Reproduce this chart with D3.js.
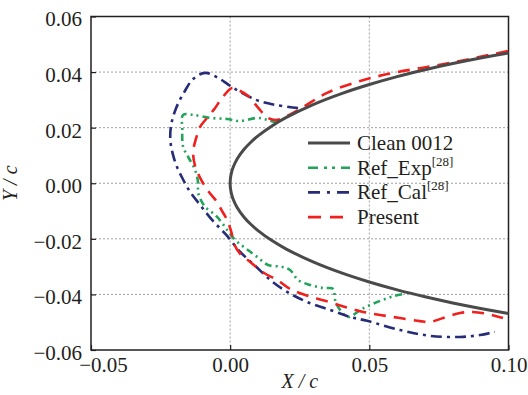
<!DOCTYPE html>
<html>
<head>
<meta charset="utf-8">
<script src="https://cdn.jsdelivr.net/npm/d3@7"></script>
<style>
    body { margin: 0; background: #fff; }
    text { font-family: "Liberation Serif", "Times New Roman", serif; fill: #231f20; }
    .grid line { stroke: #a0a0a0; stroke-width: 1; stroke-dasharray: 2,2; }
</style>
</head>
<body>
<div id="chart"></div>
<script>

// Clean NACA 0012 nose (upper surface, lower is mirrored)
const cleanX = [0, 0.0001, 0.0005, 0.001, 0.0025, 0.005, 0.0075, 0.01, 0.015, 0.02, 0.03, 0.04, 0.05, 0.06, 0.07, 0.08, 0.09, 0.10, 0.11];
const cleanY = [0, 0.00177, 0.00395, 0.00556, 0.00872, 0.01221, 0.01485, 0.01704, 0.02064, 0.02360, 0.02840, 0.03228, 0.03555, 0.03838, 0.04086, 0.04307, 0.04505, 0.04683, 0.04843];

// Ref_Exp [28] ice shape
const expX = [0.0169, 0.0133, 0.0097, 0.0036, -0.0011, -0.0072, -0.0133, -0.0169, -0.0172, -0.0169, -0.0151, -0.0126, -0.0115, -0.0115, -0.0090, -0.0054, -0.0029, -0.0011, 0.0018, 0.0054, 0.0097, 0.0136, 0.0187, 0.0215, 0.0244, 0.0287, 0.0334, 0.0370, 0.0377, 0.0395, 0.0424, 0.0474, 0.0539, 0.0592, 0.0625];
const expY = [0.0217, 0.0228, 0.0235, 0.0224, 0.0231, 0.0235, 0.0246, 0.0246, 0.0192, 0.0131, 0.0095, 0.0048, 0.0001, -0.0035, -0.0085, -0.0114, -0.0143, -0.0168, -0.0204, -0.0233, -0.0265, -0.0294, -0.0301, -0.0312, -0.0348, -0.0366, -0.0377, -0.0380, -0.0420, -0.0456, -0.0481, -0.0452, -0.0423, -0.0405, -0.0398];

// Ref_Cal [28] ice shape
const calX = [0.0244, 0.0162, 0.0093, 0.0007, -0.0043, -0.0090, -0.0133, -0.0165, -0.0194, -0.0212, -0.0215, -0.0208, -0.0194, -0.0172, -0.0144, -0.0108, -0.0065, -0.0014, 0.0036, 0.0090, 0.0144, 0.0205, 0.0276, 0.0359, 0.0431, 0.0492, 0.0610, 0.0718, 0.0826, 0.0898, 0.0951];
const calY = [0.0271, 0.0282, 0.0300, 0.0346, 0.0379, 0.0397, 0.0375, 0.0328, 0.0271, 0.0210, 0.0156, 0.0113, 0.0066, 0.0019, -0.0031, -0.0078, -0.0132, -0.0186, -0.0247, -0.0297, -0.0348, -0.0391, -0.0427, -0.0456, -0.0481, -0.0495, -0.0528, -0.0549, -0.0553, -0.0546, -0.0535];

// Present ice shape
const presX = [0.0998, 0.0933, 0.0826, 0.0707, 0.0585, 0.0467, 0.0348, 0.0262, 0.0205, 0.0169, 0.0136, 0.0101, 0.0065, 0.0036, 0.0007, -0.0029, -0.0054, -0.0083, -0.0108, -0.0122, -0.0133, -0.0126, -0.0104, -0.0079, -0.0050, -0.0029, -0.0011, 0.0004, 0.0014, 0.0036, 0.0072, 0.0122, 0.0169, 0.0215, 0.0269, 0.0341, 0.0413, 0.0478, 0.0539, 0.0610, 0.0682, 0.0718, 0.0765, 0.0826, 0.0872, 0.0922, 0.0980];
const presY = [0.0476, 0.0462, 0.0440, 0.0418, 0.0397, 0.0368, 0.0325, 0.0274, 0.0242, 0.0228, 0.0235, 0.0271, 0.0314, 0.0332, 0.0343, 0.0307, 0.0271, 0.0235, 0.0203, 0.0163, 0.0113, 0.0062, 0.0012, -0.0028, -0.0064, -0.0100, -0.0132, -0.0175, -0.0218, -0.0254, -0.0283, -0.0323, -0.0348, -0.0380, -0.0402, -0.0423, -0.0445, -0.0463, -0.0474, -0.0485, -0.0496, -0.0499, -0.0485, -0.0467, -0.0463, -0.0470, -0.0485];

const xTicks = [-0.05, 0.00, 0.05, 0.10];
const yTicks = [-0.06, -0.04, -0.02, 0.00, 0.02, 0.04, 0.06];

const seriesNames = ["Clean 0012", "Ref_Exp", "Ref_Cal", "Present"];
const seriesSup = ["", "[28]", "[28]", ""];

let margin = { top: 16.5, right: 19.5, bottom: 45, left: 91 };
let width = 528 - margin.left - margin.right;
let height = 395 - margin.top - margin.bottom;

let svg = d3.select("#chart").append("svg")
    .attr("width", 528)
    .attr("height", 395)
    .append("g")
    .attr("transform", "translate(" + margin.left + "," + margin.top + ")");

let x = d3.scaleLinear().domain([-0.05, 0.10]).range([0, width]);
let y = d3.scaleLinear().domain([-0.06, 0.06]).range([height, 0]);

const fmt = v => d3.format(".2f")(v).replace("-", "\u2212");

// dotted grid at the inner ticks
let grid = svg.append("g").attr("class", "grid");
grid.selectAll(".gx")
    .data(xTicks.slice(1, -1))
    .enter().append("line")
    .attr("x1", d => x(d)).attr("x2", d => x(d))
    .attr("y1", 0).attr("y2", height);
grid.selectAll(".gy")
    .data(yTicks.slice(1, -1))
    .enter().append("line")
    .attr("x1", 0).attr("x2", width)
    .attr("y1", d => y(d)).attr("y2", d => y(d));

// axes, ticks pointing inward
let xAxis = d3.axisBottom(x).tickValues(xTicks).tickSizeInner(-5).tickSizeOuter(0).tickFormat(fmt).tickPadding(9);
let yAxis = d3.axisLeft(y).tickValues(yTicks).tickSizeInner(-5).tickSizeOuter(0).tickFormat(fmt).tickPadding(9);

let gx = svg.append("g")
    .attr("transform", "translate(0," + height + ")")
    .call(xAxis);
let gy = svg.append("g").call(yAxis);

[gx, gy].forEach(g => {
    g.select(".domain").remove();
    g.selectAll(".tick line").attr("stroke", "#231f20").attr("stroke-width", 1.2);
    g.selectAll("text").attr("font-size", 21).style("font-family", "'Liberation Serif', serif").attr("fill", "#231f20");
});
gx.selectAll("text").attr("dy", "0.62em");
// first x label sits to the right of the corner
gx.selectAll(".tick text").filter(d => d === -0.05).attr("dx", 12);
gy.selectAll("text").attr("dy", "0.45em");

// frame
svg.append("rect")
    .attr("width", width)
    .attr("height", height)
    .attr("fill", "none")
    .attr("stroke", "#231f20")
    .attr("stroke-width", 1.5);

// axis titles
svg.append("text")
    .attr("x", width / 2)
    .attr("y", height + 38)
    .attr("text-anchor", "middle")
    .attr("font-size", 20)
    .attr("font-style", "italic")
    .text("X / c");

svg.append("text")
    .attr("transform", "translate(" + (-74) + "," + (height / 2) + ") rotate(-90)")
    .attr("text-anchor", "middle")
    .attr("font-size", 20)
    .attr("font-style", "italic")
    .text("Y / c");

// clip the curves to the plot area
svg.append("clipPath").attr("id", "clip")
    .append("rect").attr("width", width).attr("height", height);

let plot = svg.append("g").attr("clip-path", "url(#clip)");

const zip = (xs, ys) => xs.map((v, i) => [v, ys[i]]);

// clean airfoil: lower surface reversed, then upper
let cleanPts = zip(cleanX, cleanY.map(v => -v)).reverse().concat(zip(cleanX, cleanY).slice(1));

let smooth = d3.line()
    .x(d => x(d[0]))
    .y(d => y(d[1]))
    .curve(d3.curveCatmullRom.alpha(0.5));

let styles = [
    { data: cleanPts, color: "#4a4a4a", width: 3, dash: null },
    { data: zip(expX, expY), color: "#22a45a", width: 2.6, dash: "7,4,2,4,2,4" },
    { data: zip(calX, calY), color: "#262c78", width: 2.6, dash: "11,5,3,5" },
    { data: zip(presX, presY), color: "#f0201e", width: 2.6, dash: "12,8" }
];

// draw the ice shapes first, clean airfoil on top
[1, 2, 3, 0].forEach(i => {
    let s = styles[i];
    plot.append("path")
        .datum(s.data)
        .attr("fill", "none")
        .attr("stroke", s.color)
        .attr("stroke-width", s.width)
        .attr("stroke-dasharray", s.dash)
        .attr("d", smooth);
});

// legend (no box)
let legend = svg.append("g")
    .attr("transform", "translate(" + (308 - margin.left) + "," + (143 - margin.top) + ")");

let items = legend.selectAll(".legend-item")
    .data(styles)
    .enter().append("g")
    .attr("transform", (d, i) => "translate(0," + (i * 24.7) + ")");

items.append("line")
    .attr("x1", 0).attr("x2", 42)
    .attr("stroke", d => d.color)
    .attr("stroke-width", d => d.width)
    .attr("stroke-dasharray", (d, i) => i === 0 ? null : (i === 1 ? "10,6,3,5,3,6" : (i === 2 ? "12,7,3,7" : "13,9")));

let labels = items.append("text")
    .attr("x", 49)
    .attr("y", 7)
    .attr("font-size", 21);
labels.append("tspan").text((d, i) => seriesNames[i]);
labels.append("tspan")
    .attr("font-size", 13)
    .attr("dy", -9)
    .text((d, i) => seriesSup[i]);

</script>
</body>
</html>
